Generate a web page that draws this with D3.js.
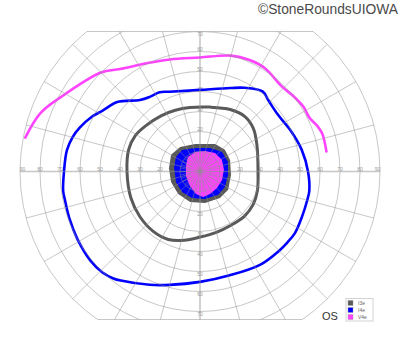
<!DOCTYPE html>
<html>
<head>
<meta charset="utf-8">
<script src="https://cdn.jsdelivr.net/npm/d3@7"></script>
<style>
  body { margin: 0; background: #fff; }
  svg { display: block; font-family: "Liberation Sans", Arial, sans-serif; }
</style>
</head>
<body>
<div id="chart"></div>
<script>
// isopters as [meridian deg (0 = right, counter-clockwise), eccentricity deg]
var v4e = [[169, 89], [160, 85], [152, 79], [135, 70], [128, 65], [115, 60], [105, 58], [90, 57],
    [75, 60], [66, 61], [58, 61], [46, 59], [39, 60], [32, 61], [26, 61], [21, 63], [17, 64], [9, 64]];

var i4e = [[180, 68], [171, 67.4], [165, 66], [160, 64], [153, 60.5], [148, 57.4], [140, 54], [130, 46.7],
    [124, 45], [117, 44.5], [111, 42.7], [90, 40.8], [70, 44.4], [62, 47.4], [52, 50.8], [46, 49.3],
    [36, 48.2], [25, 49.6], [12, 52], [0, 54], [350, 55.5], [345, 55.5], [336, 55.8], [327, 56.6],
    [321, 56.3], [315, 56], [303, 55.5], [286, 54], [270, 55.2], [255, 58.7], [246, 62], [234, 67.4],
    [231, 68.8], [226, 70.2], [219, 70.6], [209, 70], [200, 69.4], [192, 69], [188, 69.1]];

var i3e = [[180, 36.5], [163, 37.3], [151, 37], [140, 35.5], [125, 34], [112, 33], [99, 32.4], [81, 32.6],
    [64, 34.5], [51, 35.5], [39, 34.3], [25, 31.4], [0, 29], [342, 30.2], [328, 31.3], [315, 31.5],
    [300, 31], [285, 31.5], [270, 32.8], [257, 35.3], [245, 37.5], [232, 38], [217, 37.6], [201, 37]];

// filled central areas
var centerI3e = [[174, 15.6], [150, 16.7], [129, 15.8], [100, 14], [61, 15.7], [41, 16.5], [21, 16.1],
    [354, 15.6], [327, 16.8], [307, 16.6], [279, 16], [252, 16], [226, 15.7], [200, 15.4]];
var centerI4e = [[172, 13.1], [149, 14], [130, 14], [102, 12], [67, 12.8], [42, 14.7], [19, 14.8],
    [353, 14.1], [328, 14.7], [308, 14.8], [280, 14], [253, 13.8], [229, 13.6], [204, 13.1]];
var centerV4e = [[155, 7.7], [130, 9.4], [104, 10.1], [76, 10.6], [51, 11.9], [28, 12.4], [4, 12],
    [339, 11.8], [316, 11.8], [294, 12.3], [277, 12.8], [260, 11.4], [235, 8.8], [198, 7.4]];

var eccCircles = [10, 20, 30, 40, 50, 60, 70, 80, 90];
var hLabels = [20, 30, 40, 50, 60, 70, 80, 90];
var vLabels = [20, 30, 40, 50, 60, 70];
var legendItems = ["I3e", "I4e", "V4e"];
var legendColors = ["#5a5a5a", "#0000ff", "#ff44ff"];

var width = 400, height = 352;
var cx = 200, cy = 171.5;
var topCut = 70, bottomCut = 74;
var rad = Math.PI / 180;

var r = d3.scaleLinear().domain([0, 90]).range([0, 180]);

var svg = d3.select("#chart").append("svg")
    .attr("width", width)
    .attr("height", height);

svg.append("rect").attr("width", width).attr("height", height).attr("fill", "#fff");

svg.append("defs").append("clipPath")
    .attr("id", "fieldClip")
    .append("rect")
    .attr("x", 0)
    .attr("y", cy - r(topCut))
    .attr("width", width)
    .attr("height", r(topCut) + r(bottomCut));

var field = svg.append("g")
    .attr("transform", "translate(" + cx + "," + cy + ")");

var radial = d3.lineRadial()
    .angle(function(d) { return (90 - d[0]) * rad; })
    .radius(function(d) { return r(d[1]); });

// central filled areas
var fills = field.append("g");
[[centerI3e, legendColors[0]], [centerI4e, legendColors[1]], [centerV4e, legendColors[2]]].forEach(function(c) {
    fills.append("path")
        .attr("d", radial.curve(d3.curveLinearClosed)(c[0]))
        .attr("fill", c[1]);
});

// grid
var grid = svg.append("g")
    .attr("clip-path", "url(#fieldClip)")
    .append("g")
    .attr("transform", "translate(" + cx + "," + cy + ")")
    .attr("fill", "none")
    .attr("stroke", "#8f8f8f")
    .attr("stroke-opacity", 0.5);

grid.selectAll(".ring")
    .data(eccCircles)
    .enter().append("circle")
    .attr("class", "ring")
    .attr("r", function(d) { return r(d); })
    .attr("stroke-width", 1);

grid.selectAll(".spoke")
    .data(d3.range(0, 360, 15))
    .enter().append("line")
    .attr("class", "spoke")
    .attr("x1", 0).attr("y1", 0)
    .attr("x2", function(d) { return r(90) * Math.cos(d * rad); })
    .attr("y2", function(d) { return -r(90) * Math.sin(d * rad); })
    .attr("stroke-width", function(d) { return d % 90 === 0 ? 1.6 : 1; });

// fine central grid
grid.append("circle").attr("r", r(5)).attr("stroke-width", 0.8);
grid.selectAll(".fine")
    .data(d3.range(0, 360, 10))
    .enter().append("line")
    .attr("class", "fine")
    .attr("x1", function(d) { return r(5) * Math.cos(d * rad); })
    .attr("y1", function(d) { return -r(5) * Math.sin(d * rad); })
    .attr("x2", function(d) { return r(10) * Math.cos(d * rad); })
    .attr("y2", function(d) { return -r(10) * Math.sin(d * rad); })
    .attr("stroke-width", 0.8);

// flat cut edges of the field
[[-r(topCut)], [r(bottomCut)]].forEach(function(e) {
    var dy = e[0];
    var dx = Math.sqrt(r(90) * r(90) - dy * dy);
    field.append("line")
        .attr("x1", -dx).attr("x2", dx)
        .attr("y1", dy).attr("y2", dy)
        .attr("stroke", "#8f8f8f")
        .attr("stroke-opacity", 0.5)
        .attr("stroke-width", 1.2);
});

// axis labels
var labels = field.append("g")
    .attr("font-size", "5px")
    .attr("fill", "#9a9a9a")
    .attr("text-anchor", "middle")
    .attr("dominant-baseline", "middle");

hLabels.forEach(function(d) {
    var shift = d === 90 ? 2.5 : 0;
    labels.append("text").attr("x", -r(d) + shift).attr("y", -1.5).text(d);
    labels.append("text").attr("x", r(d) - shift).attr("y", -1.5).text(d);
});
vLabels.forEach(function(d) {
    labels.append("text").attr("x", 0).attr("y", -r(d) + (d === 70 ? 3.5 : -2)).text(d);
    labels.append("text").attr("x", 0).attr("y", r(d) + 3).text(d);
});

// isopter lines
field.append("path")
    .attr("d", radial.curve(d3.curveCatmullRomClosed)(i3e))
    .attr("fill", "none")
    .attr("stroke", legendColors[0])
    .attr("stroke-width", 3);

field.append("path")
    .attr("d", radial.curve(d3.curveCatmullRomClosed)(i4e))
    .attr("fill", "none")
    .attr("stroke", legendColors[1])
    .attr("stroke-width", 2.6);

field.append("path")
    .attr("d", radial.curve(d3.curveCatmullRom)(v4e))
    .attr("fill", "none")
    .attr("stroke", legendColors[2])
    .attr("stroke-width", 2.6)
    .attr("stroke-linecap", "round");

// copyright
svg.append("text")
    .attr("x", 398)
    .attr("y", 13.5)
    .attr("text-anchor", "end")
    .attr("font-size", "13.8px")
    .attr("fill", "#4a4a4a")
    .text("\u00A9StoneRoundsUIOWA");

// eye
svg.append("text")
    .attr("x", 322)
    .attr("y", 320)
    .attr("font-size", "11px")
    .attr("fill", "#333")
    .text("OS");

// legend
var legend = svg.append("g")
    .attr("transform", "translate(346,298.5)");

legend.append("rect")
    .attr("width", 27)
    .attr("height", 22.5)
    .attr("fill", "#fff")
    .attr("stroke", "#c8c8c8")
    .attr("stroke-width", 0.8);

var item = legend.selectAll(".item")
    .data(legendItems)
    .enter().append("g")
    .attr("class", "item")
    .attr("transform", function(d, i) { return "translate(2," + (2 + i * 7) + ")"; });

item.append("rect")
    .attr("width", 5)
    .attr("height", 5)
    .attr("fill", function(d, i) { return legendColors[i]; })
    .attr("stroke", "#999")
    .attr("stroke-width", 0.4);

item.append("text")
    .attr("x", 10)
    .attr("y", 4.3)
    .attr("font-size", "5px")
    .attr("fill", "#666")
    .text(function(d) { return d; });
</script>
</body>
</html>
